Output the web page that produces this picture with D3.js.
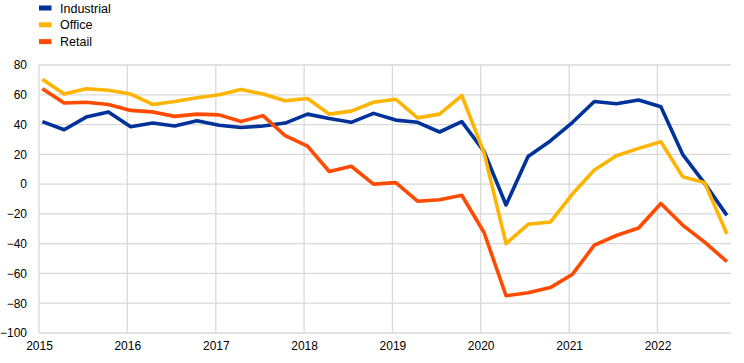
<!DOCTYPE html>
<html>
<head>
<meta charset="utf-8">
<script src="https://cdn.jsdelivr.net/npm/d3@7"></script>
<style>
  html, body { margin: 0; padding: 0; background: #fff; }
  svg { display: block; font-family: "Liberation Sans", Arial, sans-serif; }
</style>
</head>
<body>
<div id="chart"></div>
<script>
// quarterly observations, 2015 Q1 - 2022 Q4
const quarters = [];
for (let yr = 2015; yr <= 2022; yr++) {
  for (let q = 0; q < 4; q++) quarters.push(new Date(yr, q * 3, 15));
}

const industrial = [42, 36.5, 45, 48.5, 38.5, 41, 39, 42.5, 39.5, 38, 39, 41, 47, 44, 41.5, 47.5,
  43, 41.5, 35, 42, 22, -14, 18.5, 29, 41.5, 55.5, 54, 56.5, 52, 20, 0.5, -21];
const office = [70.5, 60.5, 64, 63, 60.5, 53.5, 55.5, 58, 60, 63.5, 60.5, 56, 57.5, 47, 49, 55,
  57, 44.5, 47, 59.5, 21, -40, -27, -25.5, -6.5, 9.5, 19, 24, 28.5, 5, 1, -33.5];
const retail = [64, 54.5, 55, 53.5, 49.5, 48.5, 45.5, 47, 46.5, 42, 46, 32.5, 25.5, 8.5, 12, 0,
  1, -11.5, -10.5, -7.5, -32.5, -75, -73, -69.5, -60.5, -41, -34.5, -29.5, -13, -27.5, -39, -52];

const seriesNames = ["Industrial", "Office", "Retail"];
const seriesColors = ["#003299", "#ffb400", "#ff4b00"];
const seriesValues = [industrial, office, retail];

const yTicks = [80, 60, 40, 20, 0, -20, -40, -60, -80, -100];
const yearTicks = [2015, 2016, 2017, 2018, 2019, 2020, 2021, 2022];

const width = 744, height = 363;
const margin = { left: 39, right: 731, top: 65, bottom: 333 };

const svg = d3.select("#chart").append("svg")
  .attr("width", width)
  .attr("height", height);

const x = d3.scaleTime()
  .domain([new Date(2015, 0, 1), new Date(2022, 10, 1)])
  .range([margin.left, margin.right]);

const y = d3.scaleLinear()
  .domain([-100, 80])
  .range([margin.bottom, margin.top]);

// horizontal grid
svg.append("g")
  .selectAll("line")
  .data(yTicks)
  .join("line")
  .attr("x1", margin.left).attr("x2", margin.right)
  .attr("y1", d => y(d)).attr("y2", d => y(d))
  .attr("stroke", "#d9d9d9")
  .attr("stroke-width", 1.3);

// vertical grid
svg.append("g")
  .selectAll("line")
  .data(yearTicks)
  .join("line")
  .attr("x1", d => x(new Date(d, 0, 1))).attr("x2", d => x(new Date(d, 0, 1)))
  .attr("y1", margin.top).attr("y2", margin.bottom)
  .attr("stroke", "#d9d9d9")
  .attr("stroke-width", 1.3);

// y axis labels
const yAxis = svg.append("g")
  .attr("transform", `translate(${margin.left},0)`)
  .call(d3.axisLeft(y).tickValues(yTicks).tickSize(0).tickPadding(12));
yAxis.select(".domain").remove();
yAxis.selectAll("text")
  .attr("font-size", 12)
  .attr("font-family", "Liberation Sans, Arial, sans-serif")
  .attr("fill", "#000");

// x axis labels
const xAxis = svg.append("g")
  .attr("transform", `translate(0,${margin.bottom})`)
  .call(d3.axisBottom(x)
    .tickValues(yearTicks.map(d => new Date(d, 0, 1)))
    .tickFormat(d3.timeFormat("%Y"))
    .tickSize(0).tickPadding(8));
xAxis.select(".domain").remove();
xAxis.selectAll("text")
  .attr("font-size", 12)
  .attr("font-family", "Liberation Sans, Arial, sans-serif")
  .attr("fill", "#000");

// lines
const line = d3.line()
  .x((d, i) => x(quarters[i]))
  .y(d => y(d));

svg.append("g")
  .selectAll("path")
  .data(seriesValues)
  .join("path")
  .attr("d", d => line(d))
  .attr("fill", "none")
  .attr("stroke", (d, i) => seriesColors[i])
  .attr("stroke-width", 3.6)
  .attr("stroke-linejoin", "round");

// legend
const legend = svg.append("g")
  .selectAll("g")
  .data(seriesNames)
  .join("g")
  .attr("transform", (d, i) => `translate(39,${8 + i * 16.8})`);

legend.append("rect")
  .attr("x", 0).attr("y", -2.5)
  .attr("width", 12.5).attr("height", 5)
  .attr("fill", (d, i) => seriesColors[i]);

legend.append("text")
  .attr("x", 21).attr("y", 4.5)
  .attr("font-size", 12.5)
  .attr("fill", "#000")
  .text(d => d);
</script>
</body>
</html>
